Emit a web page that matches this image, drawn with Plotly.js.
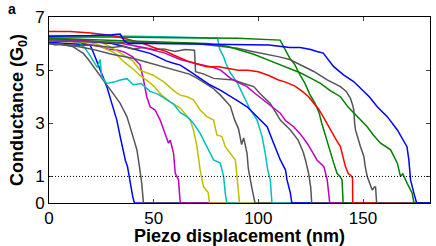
<!DOCTYPE html>
<html>
<head>
<meta charset="utf-8">
<script src="https://cdn.plot.ly/plotly-3.0.1.min.js"></script>
<style>html,body{margin:0;padding:0;background:#fff;}#chart{width:436px;height:246px;}</style>
</head>
<body>
<div id="chart"></div>
<script>
// Piezo displacement (nm) / Conductance (G0) for each breaking trace
const x01 = [0,5,10,15,19.6,21,22.8,25.2,27.6,30,32.4,34,35.6,36.5,37.5,38,38.4,39.2,40,40.8,182];
const y01 = [6.05,6.02,6.0,5.98,5.95,5.7,5.35,4.88,4.38,3.75,3.12,2.5,1.87,1.6,1.37,1.1,0.87,0.6,0.24,0,0];

const x02 = [0,3,6,9,11.6,14,16.4,18.8,21.2,23.6,26,28,30,32,34,35.6,37.2,38.4,39.6,40.8,42,43.2,44.3,45.1,182];
const y02 = [6.0,5.95,5.98,5.93,5.88,5.75,5.63,5.4,5.13,4.9,4.63,4.4,4.19,3.95,3.75,3.5,3.25,2.95,2.62,2.3,2.0,1.37,0.74,0,0];

const x03 = [0,10,20,24,28,33,36,38,40,41,43.5,45,46.7,48.3,50.7,53.1,55.5,57.1,57.9,59.5,60.3,61.9,62.3,62.7,182];
const y03 = [6.15,6.1,5.95,5.9,5.8,5.75,5.68,5.6,5.5,5.4,5.2,4.7,4.0,3.62,3.5,3.12,2.62,2.25,2.37,1.87,1.12,0.87,0.4,0,0];

const x04 = [0,10,18,22,25,27,30,32,36,40,43.5,47,50,54,58,62.7,65,67.5,69,70.7,72.2,73.8,75,76,76.7,182];
const y04 = [6.1,6.08,6.05,6.0,5.9,5.8,5.7,5.6,5.3,5.05,4.8,4.6,4.4,4.05,3.8,3.57,3.35,3.12,2.75,2.12,1.24,0.61,0.5,0.4,0,0];

const x05 = [0,10,14,17,20,23,24.4,25.2,27.6,31,34,37.2,40.3,44,48.3,52,56,59.5,62.7,65.9,69,72.2,75.4,78.6,81.8,83.4,84.2,84.9,182];
const y05 = [6.2,6.15,6.05,5.85,5.5,5.1,5.4,4.75,4.5,4.55,4.63,4.68,4.45,4.5,4.2,4.1,3.9,3.72,3.4,3.25,3.0,2.62,2.12,1.62,1.5,1.0,0.37,0,0];

const x06 = [0,15,25,30,35,40,43.5,47,50,55,60,62.7,65.9,69,72.2,75.4,78.6,80.2,82.6,84.2,86.6,89,89.8,90.6,91,182];
const y06 = [6.2,6.15,6.05,5.85,5.6,5.35,5.0,4.9,4.8,4.55,4.2,4.06,4.0,3.88,3.5,3.25,3.12,2.56,2.5,2.12,1.87,1.62,1.0,0.37,0,0];

const x07 = [0,10,20,30,40,47,55,62.7,67,70.7,75,78.6,82,86.6,88.8,90.5,92,93,94.6,95.2,96.8,97.5,98.4,182];
const y07 = [6.0,5.95,5.8,5.6,5.45,5.3,5.1,4.95,4.85,4.7,4.5,4.3,4.05,3.65,3.1,2.8,2.2,2.45,1.87,1.3,0.61,0.3,0,0];

const x08 = [0,20,40,60,75,80.5,81.5,83.4,84.5,86.6,89.8,93,96.2,99.4,101.8,103.3,104.5,105.7,106,106.5,182];
const y08 = [6.3,6.3,6.28,6.25,6.22,6.2,5.8,5.5,5.25,4.9,4.55,4.0,3.5,3.12,2.5,1.87,1.24,0.87,0.49,0,0];

const x09 = [0,15,30,35.5,38,43.5,48.3,52,56,59.5,62.7,67.5,72.2,77,81.8,86.6,90,94.6,99.4,104.2,107.3,110.5,113,113.7,115.3,116,182];
const y09 = [6.2,6.1,6.0,5.9,5.85,5.75,5.63,5.5,5.35,5.26,5.19,4.94,4.7,4.44,4.25,4.0,3.85,3.62,3.25,2.87,2.25,1.62,1.24,0.87,0.37,0,0];

const x10 = [0,10,20,30,35,40,45,50,55,60,65,69.5,70,74,78.6,83,88.2,93,97.8,101,105.7,110.5,115.3,119,121.5,122.5,124,125,125.5,182];
const y10 = [6.0,5.92,5.95,5.85,5.9,5.8,5.85,5.78,5.8,5.7,5.78,5.75,4.94,4.85,4.69,4.65,4.63,4.5,4.38,4.1,3.75,3.12,2.75,2.37,1.9,1.62,1.12,0.6,0,0];

const x11 = [0,20,35,45,55,62.7,70,78.6,82,86.6,90,94.6,98,102.5,106,110.5,113,116.9,120,123.3,126,128,131.3,132.9,133.6,134.1,182];
const y11 = [6.15,6.1,6.0,5.85,5.65,5.4,5.25,5.1,5.0,4.7,4.55,4.38,4.15,3.88,3.65,3.38,3.1,2.87,2.6,2.25,1.9,1.62,1.37,0.87,0.37,0,0];

const x12 = [0,30,60,90,110.4,112.8,115,117.5,120,122.3,124.5,127.1,129,130.3,131.2,133,134.4,136,137.6,139,140,140.3,140.5,182];
const y12 = [6.25,6.25,6.22,6.2,6.13,5.76,5.45,5.2,4.8,4.5,4.1,3.75,3.4,3.0,2.75,2.3,1.87,1.5,1.12,1.0,0.87,0.5,0,0];

const x13 = [0,10,20,30,38,45,50,56,60,66,70,75.4,81,86,90.4,95,100,105,109.6,113,117.5,121,124,126,128.7,131.3,134.4,137,139.2,140.5,141.6,143,144,145,145.1,182];
const y13 = [6.45,6.45,6.4,6.3,6.15,6.0,5.85,5.7,5.55,5.35,5.25,5.13,5.13,5.05,5.0,5.0,4.94,4.8,4.63,4.55,4.4,4.2,4.0,3.8,3.55,3.2,2.75,2.4,2.12,1.7,1.37,1.1,1.05,0.95,0,0];

const x14 = [0,20,40,55,70,80,90,96,102.5,110,115,120,126.5,132.9,139.2,142,144,145,145.6,146,146.4,148.8,150.4,151,152,154.4,155.5,156,156.5,182];
const y14 = [6.1,6.08,6.05,6.02,6.0,5.92,5.82,5.72,5.63,5.5,5.4,5.2,4.95,4.63,4.38,4.2,3.94,3.7,3.5,3.0,2.75,2.12,1.75,1.4,1.0,0.49,0.6,0.6,0,0];

const x15 = [0,20,40,60,75,85,92,97.8,105.7,112,120,125,129.7,134,139.2,143,147.2,152,155,158.4,163.2,165,166.4,167.9,169,171.1,173.5,174.3,182];
const y15 = [6.2,6.15,6.1,6.05,6.0,5.9,5.75,5.6,5.35,5.15,4.9,4.7,4.5,4.25,4.0,3.6,3.25,2.87,2.55,2.25,2.0,1.7,1.5,1.0,1.1,0.74,0.37,0,0];

const x16 = [0,10,20,30,34,36,38,50,70,90,105,110,115,120,125,128,131,136,140.7,145.5,150,153,156.8,161.6,166.4,171,171.9,172.7,174.3,175.6,182];
const y16 = [6.28,6.28,6.3,6.33,6.36,6.1,6.0,6.0,5.98,5.97,5.95,5.9,5.85,5.85,5.78,5.7,5.64,5.13,4.82,4.57,4.25,4.0,3.62,3.25,2.75,2.12,1.62,0.87,0.37,0,0];

const traceColors = ['#0000ff','#555555','#bf00bf','#bfbf00','#00bfbf','#bfbf00','#555555','#00bfbf',
                     '#0000ff','#555555','#bf00bf','#008000','#ff0000','#555555','#008000','#0000ff'];
const xs = [x01,x02,x03,x04,x05,x06,x07,x08,x09,x10,x11,x12,x13,x14,x15,x16];
const ys = [y01,y02,y03,y04,y05,y06,y07,y08,y09,y10,y11,y12,y13,y14,y15,y16];

const xTicks = [0,50,100,150];
const yTicks = [0,1,3,5,7];
const thresholdG = 1;

const data = xs.map((x,i)=>({
  x: x, y: ys[i], type:'scatter', mode:'lines',
  line:{color:traceColors[i], width:1.5}, hoverinfo:'skip', showlegend:false
}));

const font = {family:'Liberation Sans, Arial, sans-serif', color:'#000'};
const layout = {
  width:436, height:246,
  margin:{l:49, r:6, t:17, b:43},
  paper_bgcolor:'#fff', plot_bgcolor:'#fff',
  showlegend:false,
  xaxis:{range:[0,182], tickvals:xTicks, ticktext:xTicks.map(String), ticks:'inside', ticklen:4,
         showline:true, linecolor:'#000', linewidth:1, mirror:'ticks', showgrid:false, zeroline:false,
         tickfont:Object.assign({size:17},font),
         title:{text:'<b>Piezo displacement (nm)</b>', font:Object.assign({size:18},font), standoff:2}},
  yaxis:{range:[0,7], tickvals:yTicks, ticktext:yTicks.map(String), ticks:'inside', ticklen:4,
         showline:true, linecolor:'#000', linewidth:1, mirror:'ticks', showgrid:false, zeroline:false,
         tickfont:Object.assign({size:17},font),
         title:{text:'<b>Conductance (G<sub>0</sub>)</b>', font:Object.assign({size:18},font), standoff:6}},
  shapes:[{type:'line', xref:'paper', x0:0, x1:1, yref:'y', y0:thresholdG, y1:thresholdG,
           line:{color:'#000', width:1, dash:'1px,2px'}, layer:'above'}],
  annotations:[{text:'<b>a</b>', xref:'paper', yref:'paper', x:-0.097, y:1.045, xanchor:'center', yanchor:'middle',
                showarrow:false, font:Object.assign({size:14},font)}]
};
Plotly.newPlot('chart', data, layout, {staticPlot:true, displayModeBar:false});
</script>
</body>
</html>
